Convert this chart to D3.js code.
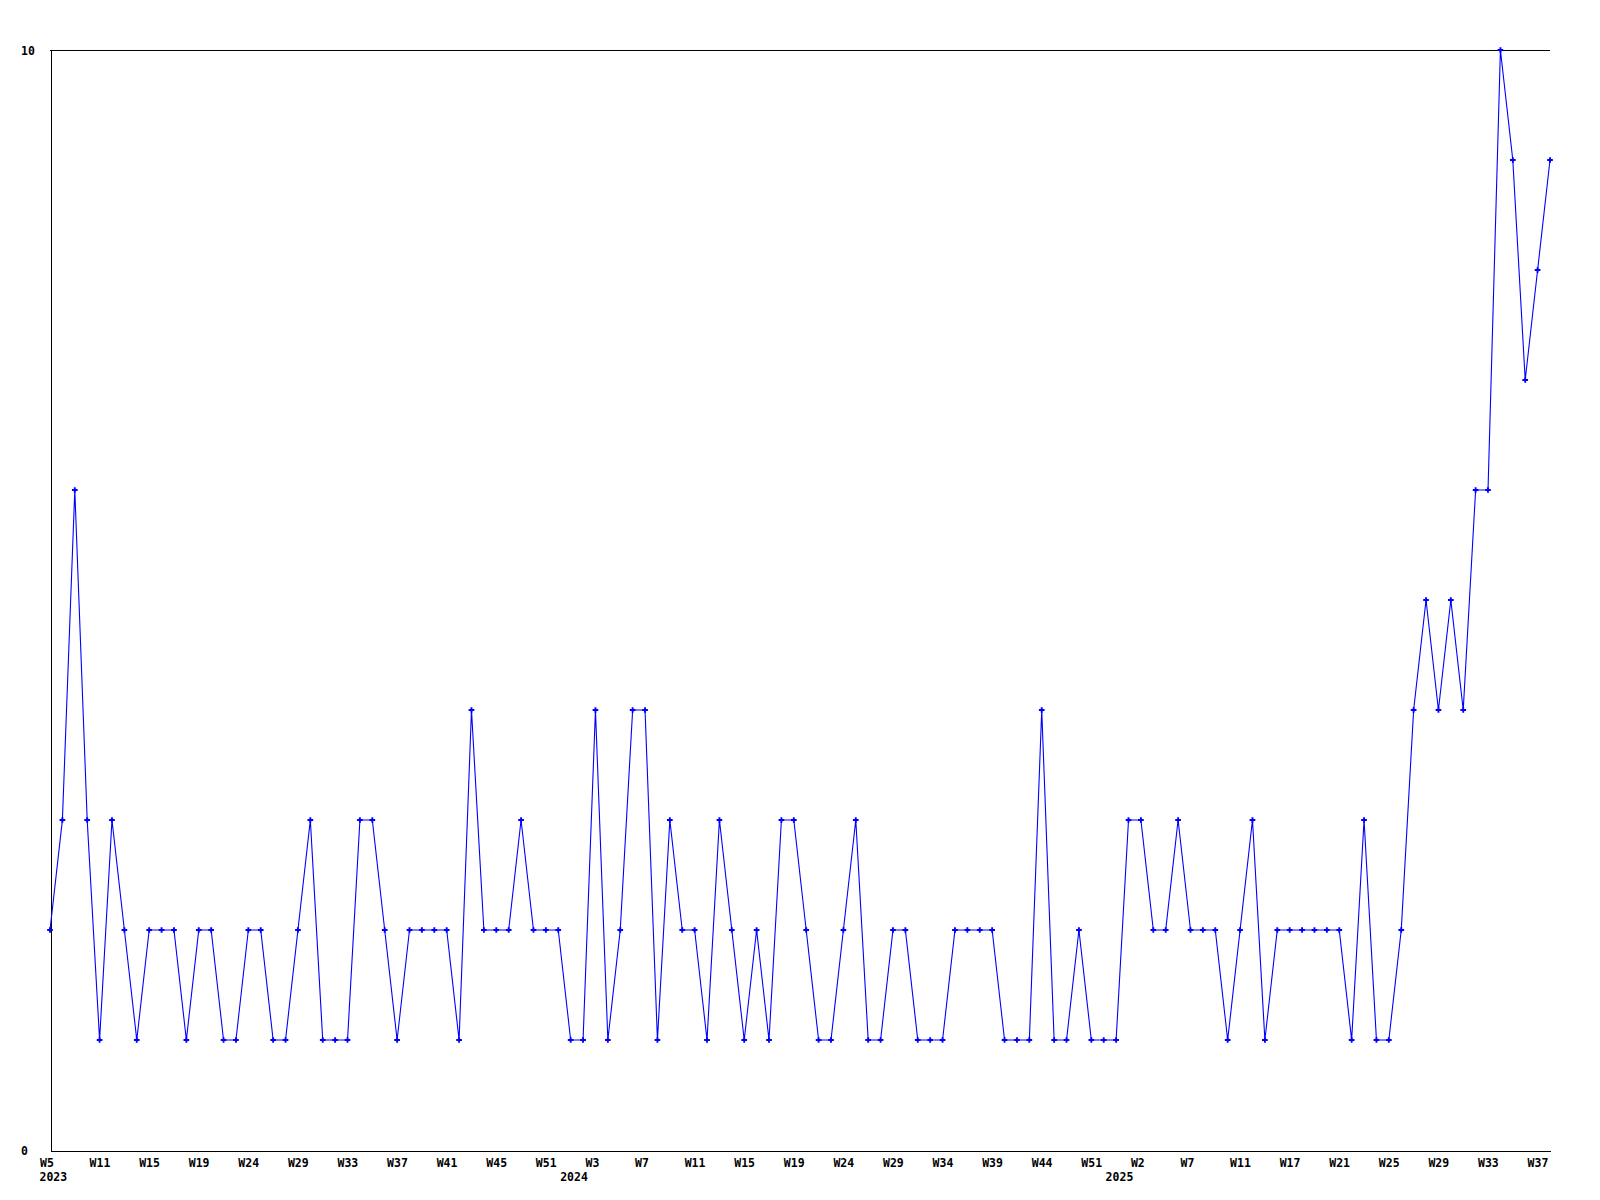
<!DOCTYPE html>
<html>
<head>
<meta charset="utf-8">
<script src="https://cdn.jsdelivr.net/npm/d3@7"></script>
<style>
  html, body { margin: 0; padding: 0; background: #fff; }
  svg { display: block; }
  text { font-family: "DejaVu Sans Mono", monospace; font-weight: bold; font-size: 11.5px; fill: #000; }
</style>
</head>
<body>
<svg id="chart" width="1600" height="1200"></svg>
<script>
// ---- data ----
const years = [
  "2023","2023","2023","2023","2023","2023","2023","2023","2023","2023","2023","2023","2023","2023",
  "2023","2023","2023","2023","2023","2023","2023","2023","2023","2023","2023","2023","2023","2023",
  "2023","2023","2023","2023","2023","2023","2023","2023","2023","2023","2023","2023","2023","2023",
  "2024","2024","2024","2024","2024","2024","2024","2024","2024","2024","2024","2024","2024","2024",
  "2024","2024","2024","2024","2024","2024","2024","2024","2024","2024","2024","2024","2024","2024",
  "2024","2024","2024","2024","2024","2024","2024","2024","2024","2024","2024","2024","2024","2024",
  "2024","2024",
  "2025","2025","2025","2025","2025","2025","2025","2025","2025","2025","2025","2025","2025","2025",
  "2025","2025","2025","2025","2025","2025","2025","2025","2025","2025","2025","2025","2025","2025",
  "2025","2025","2025","2025","2025","2025","2025","2025"
];
const weeks = [
  // 2023
  "W5","W6","W8","W10","W11","W12","W13","W14","W15","W16","W17","W18","W19","W20",
  "W21","W23","W24","W25","W26","W28","W29","W30","W31","W32","W33","W34","W35","W36",
  "W37","W38","W39","W40","W41","W42","W43","W44","W45","W46","W48","W50","W51","W52",
  // 2024
  "W1","W2","W3","W4","W5","W6","W7","W8","W9","W10","W11","W12","W13","W14",
  "W15","W16","W17","W18","W19","W20","W21","W22","W24","W25","W26","W28","W29","W30",
  "W31","W33","W34","W35","W36","W38","W39","W40","W41","W43","W44","W45","W47","W49",
  "W51","W52",
  // 2025
  "W0","W1","W2","W3","W4","W6","W7","W8","W9","W10","W11","W13","W14","W16",
  "W17","W18","W19","W20","W21","W22","W23","W24","W25","W26","W27","W28","W29","W30",
  "W31","W32","W33","W34","W35","W36","W37","W38"
];
const values = [
  2,3,6,3,1,3,2,1,2,2,2,1,2,2,1,1,2,2,1,1,2,3,1,1,1,3,3,2,1,2,2,2,
  2,1,4,2,2,2,3,2,2,2,1,1,4,1,2,4,4,1,3,2,2,1,3,2,1,2,1,3,3,2,1,
  1,2,3,1,1,2,2,1,1,1,2,2,2,2,1,1,1,4,1,1,2,1,1,1,3,3,2,2,3,2,
  2,2,1,2,3,1,2,2,2,2,2,2,1,3,1,1,2,4,5,4,5,4,6,6,10,9,7,8,9
];
const yTicks = [0, 10];
const labelEvery = 4;

// ---- layout ----
const plotLeft = 50, plotRight = 1550, plotTop = 50, plotBottom = 1150;

const svg = d3.select("#chart");
const idx = d3.range(values.length);

const x = d3.scalePoint().domain(idx).range([plotLeft, plotRight]);
const y = d3.scaleLinear().domain([0, 10]).range([plotBottom, plotTop]);

// top reference line (at max)
svg.append("line")
  .attr("x1", plotLeft).attr("x2", plotRight)
  .attr("y1", y(10) + 0.5).attr("y2", y(10) + 0.5)
  .attr("stroke", "#000").attr("stroke-width", 1)
  .attr("shape-rendering", "crispEdges");

// y axis
const yAxis = svg.append("g")
  .attr("transform", `translate(${plotLeft + 0.5},0)`)
  .call(d3.axisLeft(y).tickValues(yTicks).tickSize(0).tickFormat(d3.format("d")));
yAxis.select(".domain").attr("stroke", "#000").attr("shape-rendering", "crispEdges");
yAxis.selectAll("text")
  .attr("text-anchor", "start")
  .attr("x", 20.5 - plotLeft)
  .attr("dy", "0.35em")
  .style("font-family", "'DejaVu Sans Mono', monospace")
  .style("font-weight", "bold")
  .style("font-size", "11.5px");

// x axis
const xAxis = svg.append("g")
  .attr("transform", `translate(0,${plotBottom + 0.5})`)
  .call(d3.axisBottom(x)
    .tickValues(idx.filter(i => i % labelEvery === 0))
    .tickSize(0)
    .tickFormat(i => weeks[i]));
xAxis.select(".domain").attr("stroke", "#000").attr("shape-rendering", "crispEdges");
xAxis.selectAll("text")
  .attr("text-anchor", "start")
  .attr("x", -10.5)
  .attr("y", 16)
  .attr("dy", 0)
  .style("font-family", "'DejaVu Sans Mono', monospace")
  .style("font-weight", "bold")
  .style("font-size", "11.5px");

// year labels at first point of each year
const yearStarts = idx.filter(i => i === 0 || years[i] !== years[i - 1]);
svg.append("g").selectAll("text")
  .data(yearStarts)
  .join("text")
  .attr("x", i => x(i) - 10.5)
  .attr("y", plotBottom + 31)
  .attr("text-anchor", "start")
  .text(i => years[i]);

// line
const line = d3.line().x(i => x(i)).y(i => y(values[i]));
svg.append("path")
  .datum(idx)
  .attr("d", line)
  .attr("fill", "none")
  .attr("stroke", "#0000ff")
  .attr("stroke-width", 1.1);

// markers
const sym = d3.symbol().type(d3.symbolCross).size(18);
svg.append("g").selectAll("path")
  .data(idx)
  .join("path")
  .attr("transform", i => `translate(${x(i)},${y(values[i])})`)
  .attr("d", sym)
  .attr("fill", "#0000ff");
</script>
</body>
</html>
